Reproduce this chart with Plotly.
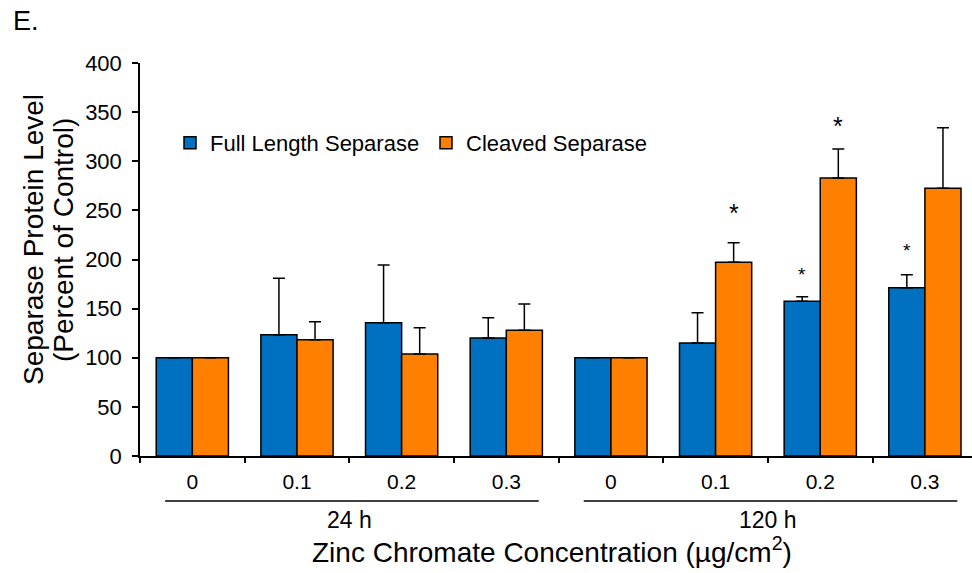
import plotly.graph_objects as go

concentrations = ["0", "0.1", "0.2", "0.3", "0", "0.1", "0.2", "0.3"]
time_groups = ["24 h", "120 h"]
full_length = [100, 123.5, 135.7, 120.1, 100, 115.0, 157.5, 171.3]
full_length_err = [0, 57.4, 58.7, 20.7, 0, 30.9, 4.6, 13.2]
cleaved = [100, 118.4, 103.8, 127.9, 100, 197.1, 283.0, 272.5]
cleaved_err = [0, 18.3, 26.8, 26.8, 0, 20.0, 29.5, 61.7]
# significance markers (height of the asterisk, None = not significant)
full_star = [None, None, None, None, None, None, 186, 211]
cleaved_star = [None, None, None, None, None, 250, 338, None]

FONT = "Liberation Sans, Arial, sans-serif"
BLUE = "#0070C0"
ORANGE = "#FF8000"

PW = 972 - 140
PH = 456 - 63

x = list(range(len(concentrations)))

fig = go.Figure()
fig.add_trace(go.Bar(
    x=x, y=full_length, name="Full Length Separase", legend="legend",
    marker=dict(color=BLUE, line=dict(color="black", width=1.5)),
    error_y=dict(type="data", array=full_length_err, symmetric=False,
                 arrayminus=[0]*len(x), color="black", thickness=1.5, width=6),
))
fig.add_trace(go.Bar(
    x=x, y=cleaved, name="Cleaved Separase", legend="legend2",
    marker=dict(color=ORANGE, line=dict(color="black", width=1.5)),
    error_y=dict(type="data", array=cleaved_err, symmetric=False,
                 arrayminus=[0]*len(x), color="black", thickness=1.5, width=6),
))

# boundary ticks (overlay axis)
fig.add_trace(go.Scatter(x=[x[0], x[-1]], y=[None, None], xaxis="x2",
                         showlegend=False, hoverinfo="skip"))

annotations = []
bar_off = 0.1725
for i in x:
    if full_star[i] is not None:
        annotations.append(dict(x=i - bar_off, y=full_star[i],
                                xref="x", yref="y", text="*", showarrow=False,
                                yanchor="bottom", yshift=-14,
                                font=dict(family=FONT, size=19, color="black")))
    if cleaved_star[i] is not None:
        annotations.append(dict(x=i + bar_off, y=cleaved_star[i],
                                xref="x", yref="y", text="*", showarrow=False,
                                yanchor="bottom", yshift=-18.5,
                                font=dict(family=FONT, size=25, color="black")))

# group labels and lines
shapes = []
n_per = len(concentrations) // len(time_groups)
for g, label in enumerate(time_groups):
    start = g * n_per
    end = start + n_per - 1
    shapes.append(dict(type="line", xref="x", yref="paper",
                       x0=start - 0.26, x1=end + 0.31, y0=-45/PH, y1=-45/PH,
                       line=dict(color="black", width=1.5)))
    annotations.append(dict(x=(start + end) / 2, y=-64/PH, xref="x", yref="paper",
                            text=label, showarrow=False, yanchor="middle",
                            font=dict(family=FONT, size=23, color="black")))

# y-axis title (two tightly spaced lines)
ty = (456 - 240) / PH
annotations.append(dict(x=-(140 - 33)/PW, y=ty, xref="paper", yref="paper",
                        text="Separase Protein Level", textangle=-90, showarrow=False,
                        xanchor="center", yanchor="middle",
                        font=dict(family=FONT, size=28, color="black")))
annotations.append(dict(x=-(140 - 63)/PW, y=ty, xref="paper", yref="paper",
                        text="(Percent of Control)", textangle=-90, showarrow=False,
                        xanchor="center", yanchor="middle",
                        font=dict(family=FONT, size=28, color="black")))
# x-axis title
annotations.append(dict(x=(552 - 140)/PW, y=-(550 - 456)/PH, xref="paper", yref="paper",
                        text="Zinc Chromate Concentration (µg/cm<sup>2</sup>)",
                        showarrow=False, xanchor="center", yanchor="middle",
                        font=dict(family=FONT, size=28, color="black")))
# panel letter
annotations.append(dict(x=-(140 - 11)/PW, y=1 + (63 - 21)/PH, xref="paper", yref="paper",
                        text="E.", showarrow=False, xanchor="left", yanchor="middle",
                        font=dict(family=FONT, size=27, color="black")))

leg_common = dict(orientation="h", xanchor="left", yanchor="middle",
                  y=1 - (143 - 63)/PH,
                  font=dict(family=FONT, size=22, color="black"),
                  bgcolor="rgba(0,0,0,0)")

fig.update_layout(
    width=972, height=573,
    margin=dict(l=140, r=0, t=63, b=117),
    paper_bgcolor="white", plot_bgcolor="white",
    barmode="group", bargap=0.31, bargroupgap=0,
    font=dict(family=FONT, color="black"),
    showlegend=True,
    legend=dict(x=(170 - 140)/PW, **leg_common),
    legend2=dict(x=(426 - 140)/PW, **leg_common),
    xaxis=dict(range=[-0.5, 7.45], tickvals=x, ticktext=concentrations,
               ticks="", showline=True, linecolor="black", linewidth=1.5,
               showgrid=False, zeroline=False, ticklabelstandoff=6,
               tickfont=dict(family=FONT, size=21, color="black")),
    xaxis2=dict(range=[-0.5, 7.45], overlaying="x", side="bottom",
                tickvals=[v - 0.5 for v in x] + [x[-1] + 0.5], ticktext=[""] * (len(x) + 1),
                ticks="outside", ticklen=6, tickwidth=1.5, tickcolor="black",
                showline=False, showgrid=False, zeroline=False, showticklabels=False),
    yaxis=dict(range=[0, 400], dtick=50, ticks="outside", ticklen=6, tickwidth=1.5,
               tickcolor="black", showline=True, linecolor="black", linewidth=1.5,
               showgrid=False, zeroline=False, ticklabelstandoff=6,
               tickfont=dict(family=FONT, size=22, color="black")),
    annotations=annotations,
    shapes=shapes,
)

fig.write_html("out.html")
